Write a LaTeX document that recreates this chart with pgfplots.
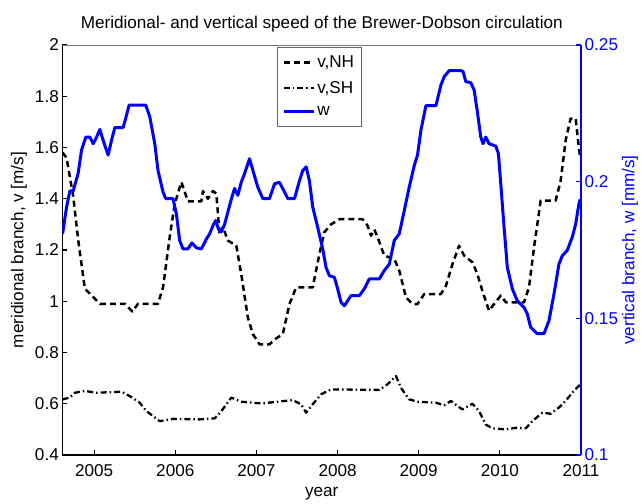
\documentclass[border=0pt]{standalone}
\usepackage{fontspec}
\setmainfont{Liberation Sans}
\usepackage{pgfplots}
\pgfplotsset{compat=1.18}
\definecolor{mblue}{RGB}{0,0,255}
\pgfplotsset{
  nh/.style={black, line width=2.5bp, dash pattern=on 6bp off 4bp, line join=round},
  sh/.style={black, line width=2.3bp, dash pattern=on 6bp off 3bp on 1.5bp off 3bp, line join=round},
  ww/.style={mblue, line width=3bp, line join=round},
  common/.style={
    width=518.5bp, height=410bp, scale only axis,
    at={(0,0)}, anchor=south west,
    xmin=2004.61, xmax=2011,
    tick align=inside, major tick length=5bp,
    /pgf/number format/assume math mode=true,
    /pgf/number format/1000 sep={},
    every tick/.style={line width=1.2bp},
    tick label style={font=\fontsize{17.2pt}{20pt}\selectfont, inner sep=1bp},
    label style={font=\fontsize{17.2pt}{20pt}\selectfont},
  },
}
\begin{document}
\begin{tikzpicture}[font=\fontsize{17.2pt}{20pt}\selectfont]
\begin{axis}[common,
  ymin=0.4, ymax=2,
  axis x line*=bottom, axis y line*=left,
  axis line style={black, line width=1.8bp},
  xtick={2005,2006,2007,2008,2009,2010,2011},
  xticklabel style={yshift=-8bp},
  yticklabel style={xshift=-2.5bp},
  ytick={0.4,0.6,0.8,1,1.2,1.4,1.6,1.8,2},
  yticklabels={0.4,0.6,0.8,1,1.2,1.4,1.6,1.8,2},
  xlabel={year}, ylabel={meridional branch, v [m/s]},
  xlabel style={at={(axis description cs:0.5,-0.095)}, anchor=center},
  ylabel style={at={(axis description cs:-0.084,0.5)}, anchor=center},
  title={Meridional- and vertical speed of the Brewer-Dobson circulation},
  every axis title shift=0pt,
  title style={at={(axis description cs:0.5,1.0407)}, anchor=base, font=\fontsize{17.2pt}{20pt}\selectfont},
  after end axis/.code={\draw[black!55, line width=0.8bp] (rel axis cs:0,1) -- (rel axis cs:1,1);},
]
\addplot[nh] coordinates {
(2004.611,1.58) (2004.660,1.56) (2004.701,1.485) (2004.742,1.41) (2004.803,1.24)
(2004.886,1.048) (2004.947,1.03) (2005.070,0.99) (2005.378,0.99) (2005.472,0.96)
(2005.541,0.99) (2005.787,0.99) (2005.849,1.054) (2005.931,1.25) (2005.993,1.38)
(2006.075,1.465) (2006.156,1.39) (2006.321,1.39) (2006.341,1.43) (2006.402,1.40)
(2006.464,1.43) (2006.506,1.42) (2006.546,1.26) (2006.587,1.29) (2006.648,1.237)
(2006.752,1.217) (2006.813,1.106) (2006.894,0.937) (2006.956,0.872) (2007.038,0.832)
(2007.161,0.832) (2007.244,0.855) (2007.325,0.872) (2007.407,0.989) (2007.490,1.054)
(2007.694,1.054) (2007.776,1.185) (2007.838,1.27) (2007.920,1.30) (2008.022,1.32)
(2008.309,1.32) (2008.370,1.295) (2008.412,1.256) (2008.453,1.28) (2008.493,1.25)
(2008.576,1.178) (2008.699,1.165) (2008.760,1.12) (2008.843,1.015) (2008.924,0.989)
(2008.985,0.989) (2009.068,1.028) (2009.273,1.028) (2009.335,1.06) (2009.416,1.145)
(2009.498,1.217) (2009.560,1.178) (2009.662,1.152) (2009.723,1.106) (2009.785,1.04)
(2009.867,0.963) (2009.929,0.989) (2010.011,1.022) (2010.073,0.996) (2010.298,0.996)
(2010.359,1.054) (2010.421,1.21) (2010.503,1.393) (2010.688,1.393) (2010.749,1.47)
(2010.811,1.628) (2010.872,1.713) (2010.934,1.713) (2010.966,1.62) (2010.99,1.56)
};
\addplot[sh] coordinates {
(2004.611,0.617) (2004.701,0.624) (2004.763,0.643) (2004.886,0.65) (2005.030,0.643)
(2005.337,0.647) (2005.439,0.63) (2005.562,0.604) (2005.645,0.571) (2005.726,0.552)
(2005.808,0.532) (2005.972,0.541) (2006.300,0.539) (2006.485,0.543) (2006.567,0.571)
(2006.690,0.624) (2006.813,0.608) (2007.059,0.601) (2007.263,0.608) (2007.448,0.614)
(2007.551,0.598) (2007.613,0.565) (2007.694,0.598) (2007.797,0.637) (2007.920,0.656)
(2008.514,0.654) (2008.616,0.676) (2008.720,0.708) (2008.781,0.662) (2008.883,0.617)
(2008.985,0.608) (2009.212,0.604) (2009.314,0.594) (2009.396,0.611) (2009.477,0.591)
(2009.539,0.578) (2009.662,0.60) (2009.744,0.571) (2009.826,0.519) (2009.908,0.504)
(2010.073,0.50) (2010.196,0.506) (2010.319,0.504) (2010.400,0.532) (2010.523,0.565)
(2010.626,0.561) (2010.728,0.585) (2010.811,0.611) (2010.892,0.643) (2010.99,0.675)
};
\end{axis}
\begin{axis}[common,
  ymin=0.1, ymax=0.25,
  axis x line=none, axis y line*=right,
  axis line style={mblue, line width=1.8bp},
  y tick style={mblue},
  yticklabel style={mblue, xshift=2.5bp},
  ytick={0.1,0.15,0.2,0.25},
  ylabel={vertical branch, w [mm/s]},
  ylabel style={mblue, at={(axis description cs:1.0945,0.5)}, anchor=center, rotate=0},
  legend style={at={(axis description cs:0.4137,0.9963)}, anchor=north west,
    draw=black!60, line width=0.6bp, font=\fontsize{17.2pt}{20pt}\selectfont,
    inner xsep=5bp, inner ysep=7bp, row sep=8bp, fill=white},
  legend cell align=left,
  legend image code/.code={\draw[#1] (0bp,0bp) -- (30bp,0bp);},
]
\addlegendimage{nh}
\addlegendentry{v,NH}
\addlegendimage{sh}
\addlegendentry{v,SH}
\addplot[ww] coordinates {
(2004.611,0.1809) (2004.660,0.1907) (2004.701,0.1966) (2004.742,0.1966) (2004.803,0.2031)
(2004.845,0.2116) (2004.898,0.2163) (2004.947,0.2163) (2004.988,0.2139) (2005.030,0.2163)
(2005.070,0.2191) (2005.111,0.2151) (2005.172,0.2097) (2005.214,0.2151) (2005.255,0.2198)
(2005.357,0.2198) (2005.399,0.2243) (2005.431,0.2280) (2005.636,0.2280) (2005.685,0.2238)
(2005.747,0.2139) (2005.787,0.2041) (2005.849,0.1962) (2005.882,0.1938) (2005.972,0.1938)
(2006.014,0.1881) (2006.054,0.1785) (2006.095,0.1754) (2006.156,0.1754) (2006.205,0.1776)
(2006.260,0.1758) (2006.321,0.1754) (2006.383,0.1790) (2006.423,0.1809) (2006.464,0.1839)
(2006.497,0.1858) (2006.534,0.1825) (2006.567,0.1816) (2006.608,0.1844) (2006.648,0.1889)
(2006.697,0.1943) (2006.731,0.1975) (2006.771,0.1950) (2006.813,0.1998) (2006.854,0.2029)
(2006.915,0.2084) (2006.968,0.2029) (2007.017,0.1980) (2007.079,0.1938) (2007.161,0.1938)
(2007.223,0.1992) (2007.284,0.1998) (2007.346,0.1962) (2007.386,0.1938) (2007.469,0.1938)
(2007.530,0.2003) (2007.571,0.2041) (2007.613,0.2054) (2007.653,0.2003) (2007.694,0.1907)
(2007.755,0.1833) (2007.817,0.1754) (2007.858,0.1686) (2007.899,0.1656) (2007.961,0.1650)
(2008.001,0.1608) (2008.043,0.1559) (2008.084,0.1546) (2008.124,0.1564) (2008.166,0.1583)
(2008.268,0.1583) (2008.330,0.1608) (2008.391,0.1644) (2008.514,0.1644) (2008.576,0.1675)
(2008.637,0.1698) (2008.699,0.1785) (2008.760,0.1809) (2008.822,0.1894) (2008.883,0.1980)
(2008.945,0.2059) (2008.985,0.2097) (2009.027,0.2188) (2009.089,0.2278) (2009.212,0.2278)
(2009.273,0.2353) (2009.314,0.2384) (2009.375,0.2406) (2009.519,0.2406) (2009.547,0.2403)
(2009.580,0.2366) (2009.642,0.2362) (2009.683,0.2335) (2009.723,0.2255) (2009.765,0.2163)
(2009.793,0.2139) (2009.826,0.2163) (2009.867,0.2139) (2009.950,0.2130) (2009.982,0.2103)
(2010.011,0.1993) (2010.052,0.1833) (2010.092,0.1686) (2010.154,0.1608) (2010.215,0.1564)
(2010.298,0.1540) (2010.338,0.1516) (2010.380,0.1467) (2010.461,0.1444) (2010.544,0.1444)
(2010.605,0.1491) (2010.667,0.1589) (2010.728,0.1698) (2010.769,0.1729) (2010.830,0.1748)
(2010.892,0.1797) (2010.934,0.1844) (2010.974,0.1919) (2010.99,0.1935)
};
\addlegendentry{w}
\end{axis}
\pgfresetboundingbox
\useasboundingbox (-62.5bp,-49bp) rectangle (579.5bp,455bp);
\end{tikzpicture}
\end{document}
